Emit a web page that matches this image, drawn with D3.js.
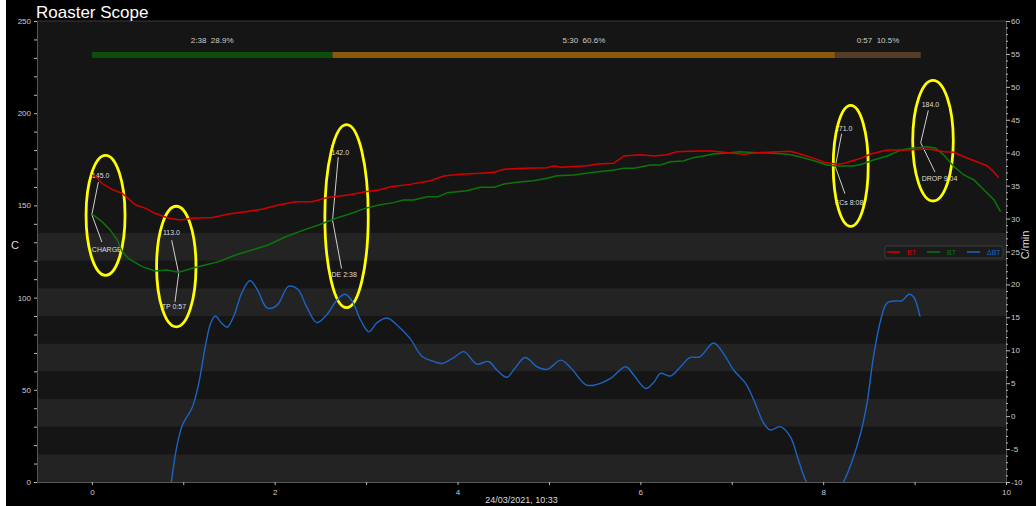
<!DOCTYPE html>
<html>
<head>
<meta charset="utf-8">
<script src="https://cdn.jsdelivr.net/npm/d3@7"></script>
<style>
  html, body { margin: 0; padding: 0; background: #ffffff; }
  #chart { position: absolute; left: 6px; top: 0; width: 1030px; height: 506px; background: #000; overflow: hidden; }
  text { font-family: "Liberation Sans", Arial, sans-serif; }
</style>
</head>
<body>
<div id="chart"></div>
<script>
// ET (red) - minutes / deg C
var etTime = [0, 0.04, 0.11, 0.22, 0.33, 0.48, 0.59, 0.69, 0.84, 0.97, 1.10, 1.32, 1.50, 1.68, 1.86, 2.04, 2.23, 2.41, 2.59, 2.81, 2.99, 3.14, 3.27, 3.48, 3.70, 3.85, 4.03, 4.25, 4.40, 4.51, 4.72, 4.98, 5.05, 5.14, 5.42, 5.53, 5.71, 5.82, 6.00, 6.15, 6.29, 6.40, 6.62, 6.77, 6.91, 7.13, 7.28, 7.46, 7.64, 7.75, 7.90, 8.01, 8.15, 8.23, 8.32, 8.41, 8.52, 8.70, 8.92, 9.06, 9.17, 9.32, 9.43, 9.54, 9.68, 9.79, 9.86, 9.92];
var etTemp = [166.2, 166.0, 162.0, 158.7, 156.6, 150.2, 148.4, 145.7, 143.0, 142.1, 143.0, 143.5, 145.3, 146.6, 147.9, 150.2, 152.0, 152.0, 154.4, 155.6, 157.4, 158.4, 160.1, 161.4, 163.4, 165.9, 166.9, 167.4, 168.0, 169.6, 170.1, 170.4, 171.4, 170.7, 171.5, 172.5, 172.8, 176.8, 177.5, 176.8, 177.5, 179.1, 179.5, 179.5, 178.8, 177.7, 178.6, 179.0, 179.3, 177.9, 175.5, 173.4, 172.3, 172.8, 174.2, 175.5, 177.9, 180.0, 180.0, 180.4, 180.4, 179.1, 178.8, 176.4, 173.7, 171.5, 168.5, 165.0];

// BT (green)
var btTime = [0, 0.04, 0.11, 0.20, 0.28, 0.33, 0.40, 0.55, 0.69, 0.82, 0.95, 1.10, 1.24, 1.39, 1.57, 1.75, 1.93, 2.12, 2.30, 2.48, 2.67, 2.81, 2.99, 3.14, 3.30, 3.41, 3.52, 3.67, 3.79, 3.89, 4.10, 4.25, 4.40, 4.51, 4.65, 4.83, 4.98, 5.09, 5.27, 5.45, 5.71, 5.82, 5.93, 6.11, 6.22, 6.33, 6.47, 6.58, 6.69, 6.80, 6.98, 7.09, 7.28, 7.46, 7.61, 7.72, 7.90, 8.04, 8.15, 8.33, 8.43, 8.55, 8.70, 8.85, 8.96, 9.14, 9.23, 9.32, 9.43, 9.54, 9.65, 9.76, 9.87, 9.94];
var btTemp = [145.3, 143.9, 141.2, 136.7, 131.2, 124.9, 121.3, 116.8, 114.4, 115.0, 113.7, 115.9, 117.7, 119.5, 123.1, 125.8, 128.5, 133.0, 136.3, 139.4, 143.0, 145.2, 148.4, 150.2, 151.5, 152.9, 152.9, 154.7, 154.7, 156.9, 158.0, 159.8, 159.8, 161.6, 162.5, 163.4, 164.7, 166.1, 166.5, 167.7, 169.2, 170.1, 170.1, 171.9, 171.9, 173.7, 174.1, 175.9, 176.8, 177.9, 178.6, 179.1, 178.6, 178.3, 177.7, 176.6, 174.2, 171.9, 171.4, 171.4, 172.5, 174.6, 176.8, 180.0, 181.0, 181.8, 181.0, 177.3, 171.0, 166.5, 163.8, 158.4, 152.9, 146.6];

// Delta BT (blue) - C/min on right axis
var rorTime = [0.86, 0.93, 0.99, 1.10, 1.17, 1.24, 1.30, 1.35, 1.42, 1.48, 1.55, 1.64, 1.73, 1.81, 1.92, 2.03, 2.15, 2.25, 2.35, 2.46, 2.57, 2.68, 2.77, 2.85, 2.94, 3.03, 3.12, 3.23, 3.34, 3.48, 3.61, 3.72, 3.83, 3.96, 4.07, 4.21, 4.34, 4.43, 4.54, 4.63, 4.74, 4.87, 4.98, 5.13, 5.24, 5.40, 5.49, 5.67, 5.84, 5.93, 6.06, 6.15, 6.22, 6.33, 6.44, 6.54, 6.65, 6.80, 6.91, 7.02, 7.15, 7.24, 7.35, 7.42, 7.53, 7.64, 7.73, 7.81, 8.02, 8.23, 8.32, 8.41, 8.48, 8.55, 8.63, 8.70, 8.81, 8.86, 8.94, 8.99, 9.06];
var rorVal = [-11.0, -4.6, -1.4, 1.4, 5.0, 10.5, 14.1, 15.2, 14.1, 13.5, 15.1, 18.7, 20.6, 19.2, 16.4, 16.9, 19.7, 19.3, 16.6, 14.2, 15.4, 17.6, 18.5, 17.4, 14.6, 12.8, 14.2, 14.9, 13.8, 11.8, 9.1, 8.4, 8.0, 8.9, 9.8, 7.9, 8.3, 7.0, 5.9, 7.3, 8.9, 7.5, 7.1, 8.5, 7.3, 4.8, 4.7, 5.7, 7.5, 6.2, 4.2, 5.2, 6.5, 6.1, 7.5, 8.9, 9.0, 11.1, 9.5, 7.0, 5.0, 2.5, -1.1, -2.1, -1.6, -3.1, -6.7, -9.8, -15.0, -9.8, -6.7, -2.6, 2.0, 9.0, 14.6, 17.2, 17.5, 17.5, 18.5, 18.1, 15.1];

// roast events
var eventNames = ["CHARGE", "TP 0:57", "DE 2:38", "FCs 8:08", "DROP 9:04"];
var eventTimes = [0, 0.95, 2.633, 8.133, 9.067];
var eventTemps = [145.0, 113.0, 142.0, 171.0, 184.0];

// phase bar
var phaseLabels = ["2:38  28.9%", "5:30  60.6%", "0:57  10.5%"];
var phaseColors = ["#0b4d0b", "#8a5a0c", "#553e28"];

// axes ticks
var xTicks = d3.range(0, 11, 1);
var leftTicks = d3.range(0, 251, 10);
var rightTicks = d3.range(-10, 61, 1);
var bandStarts = [0, 30, 60, 90, 120];

var W = 1030, H = 506;
var ox = -6; // chart div offset from page
var svg = d3.select("#chart").append("svg").attr("width", W).attr("height", H);
var g = svg.append("g").attr("transform", "translate(" + ox + ",0)");

var L = 37, R = 1006, T = 21, B = 482;
var x = d3.scaleLinear().domain([-0.6, 10]).range([L, R]);
var yL = d3.scaleLinear().domain([0, 250]).range([B, T]);
var yR = d3.scaleLinear().domain([-10, 60]).range([B, T]);

g.append("rect").attr("x", L).attr("y", T).attr("width", R - L).attr("height", B - T).attr("fill", "#151515");

g.selectAll(".band").data(bandStarts).enter().append("rect")
    .attr("x", L).attr("width", R - L)
    .attr("y", function(d){ return yL(d + 15); })
    .attr("height", function(d){ return yL(d) - yL(d + 15); })
    .attr("fill", "#232323");

g.append("line").attr("x1", L).attr("x2", R).attr("y1", T).attr("y2", T).attr("stroke", "#3a3a3a");

svg.append("defs").append("clipPath").attr("id", "clip")
    .append("rect").attr("x", L + ox).attr("y", T).attr("width", R - L).attr("height", B - T);

// axes
function styleAxis(sel){
    sel.select(".domain").attr("stroke", "#555");
    sel.selectAll(".tick line").attr("stroke", "#bbb");
    sel.selectAll(".tick text").attr("fill", "#ccc").attr("font-size", "8px").attr("font-family", "Liberation Sans, Arial, sans-serif");
}

var ax = g.append("g").attr("transform", "translate(0," + B + ")")
    .call(d3.axisBottom(x).tickValues(xTicks).tickSize(3).tickSizeOuter(0)
        .tickFormat(function(d){ return d % 2 === 0 ? d : ""; }));
styleAxis(ax);
ax.selectAll(".tick text").attr("dy", "0.9em");

var al = g.append("g").attr("transform", "translate(" + L + ",0)")
    .call(d3.axisLeft(yL).tickValues(leftTicks).tickSize(3).tickSizeOuter(0)
        .tickFormat(function(d){ return d % 50 === 0 ? d : ""; }));
styleAxis(al);

var ar = g.append("g").attr("transform", "translate(" + R + ",0)")
    .call(d3.axisRight(yR).tickValues(rightTicks).tickSizeOuter(0)
        .tickFormat(function(d){ return d % 5 === 0 ? d : ""; }));
styleAxis(ar);
ar.selectAll(".tick line").attr("x2", function(d){ return d % 5 === 0 ? 4 : 2; });
ar.selectAll(".tick text").attr("x", 5);

// titles
g.append("text").attr("x", 36).attr("y", 18).attr("fill", "#fff").attr("font-size", "17px").text("Roaster Scope");
g.append("text").attr("x", 11).attr("y", 249).attr("fill", "#ddd").attr("font-size", "11px").text("C");
g.append("text").attr("transform", "translate(1029,245) rotate(-90)").attr("text-anchor", "middle")
    .attr("fill", "#ddd").attr("font-size", "11px").text("C/min");
g.append("text").attr("x", (L + R) / 2).attr("y", 503).attr("text-anchor", "middle")
    .attr("fill", "#ddd").attr("font-size", "9px").text("24/03/2021, 10:33");

// phase bar
var phaseBounds = [eventTimes[0], eventTimes[2], eventTimes[3], eventTimes[4]];
phaseLabels.forEach(function(lab, i){
    var x0 = x(phaseBounds[i]), x1 = x(phaseBounds[i + 1]);
    g.append("rect").attr("x", x0).attr("y", 52).attr("width", x1 - x0).attr("height", 6)
        .attr("fill", phaseColors[i]);
    g.append("text").attr("x", (x0 + x1) / 2).attr("y", 43).attr("text-anchor", "middle")
        .style("white-space", "pre")
        .attr("fill", "#ccc").attr("font-size", "8px").text(lab);
});

// curves
var plot = svg.append("g").attr("clip-path", "url(#clip)").append("g").attr("transform", "translate(" + ox + ",0)");

var lineT = d3.line().x(function(d){ return x(d[0]); }).y(function(d){ return yL(d[1]); });
var lineR = d3.line().x(function(d){ return x(d[0]); }).y(function(d){ return yR(d[1]); }).curve(d3.curveCatmullRom.alpha(0.5));

plot.append("path").datum(d3.zip(rorTime, rorVal)).attr("d", lineR)
    .attr("fill", "none").attr("stroke", "#1c64c4").attr("stroke-width", 1.4);
plot.append("path").datum(d3.zip(btTime, btTemp)).attr("d", lineT)
    .attr("fill", "none").attr("stroke", "#0a760a").attr("stroke-width", 1.5);
plot.append("path").datum(d3.zip(etTime, etTemp)).attr("d", lineT)
    .attr("fill", "none").attr("stroke", "#d40000").attr("stroke-width", 1.5);

// annotations: [valDx, valDy, valLineDx, valLineDy, evDx, evDy, evLineDx, evLineDy, ellDx, ellDy, rx, ry]
var annLayout = [
    [0, -39, 6.5, -32.6, 0, 35, 10, 27.4, 13.7, 0.7, 19.5, 60],
    [-15.7, -41.4, -7, -33.4, -17, 33.3, -3.7, 28.3, -2.4, -7.1, 19.7, 60.3],
    [-1, -68, 5.7, -63, -1, 54, 9, 48.4, 14, -4, 21.7, 91.5],
    [-0.4, -38.6, 6.3, -33, -0.4, 35.7, 9.6, 27, 15.4, -0.8, 17.5, 60.5],
    [1, -38.3, 7.6, -32.3, 1, 36, 14.3, 29.4, 12.3, -2, 20.3, 60.3]
];

eventNames.forEach(function(name, i){
    var ax0 = x(eventTimes[i]), ay0 = yL(eventTemps[i]);
    var a = annLayout[i];
    g.append("line").attr("x1", ax0 + a[2]).attr("y1", ay0 + a[3]).attr("x2", ax0).attr("y2", ay0)
        .attr("stroke", "#cfcfcf").attr("stroke-width", 1);
    g.append("line").attr("x1", ax0).attr("y1", ay0).attr("x2", ax0 + a[6]).attr("y2", ay0 + a[7])
        .attr("stroke", "#cfcfcf").attr("stroke-width", 1);
    g.append("text").attr("x", ax0 + a[0]).attr("y", ay0 + a[1] + 2.5)
        .attr("fill", "#ddd").attr("font-size", "7px").text(eventTemps[i].toFixed(1));
    g.append("text").attr("x", ax0 + a[4]).attr("y", ay0 + a[5] + 2.5)
        .attr("fill", "#ddd").attr("font-size", "7px").text(name);
    g.append("ellipse").attr("cx", ax0 + a[8]).attr("cy", ay0 + a[9]).attr("rx", a[10]).attr("ry", a[11])
        .attr("fill", "none").attr("stroke", "#ffff00").attr("stroke-width", 2.8);
});

// legend
var legNames = ["ET", "BT", "\u0394BT"];
var legColors = ["#d40000", "#0a760a", "#1c64c4"];
var lg = g.append("g").attr("transform", "translate(885,246)");
lg.append("rect").attr("width", 118).attr("height", 12).attr("rx", 2)
    .attr("fill", "#1a1a1a").attr("stroke", "#3c3c3c").attr("stroke-width", 1);
legNames.forEach(function(n, i){
    var lx = 2 + i * 40;
    lg.append("line").attr("x1", lx).attr("x2", lx + 13).attr("y1", 6).attr("y2", 6)
        .attr("stroke", legColors[i]).attr("stroke-width", 1.5);
    lg.append("text").attr("x", lx + 20).attr("y", 8.5).attr("fill", legColors[i])
        .attr("font-size", "7px").text(n);
});
</script>
</body>
</html>
